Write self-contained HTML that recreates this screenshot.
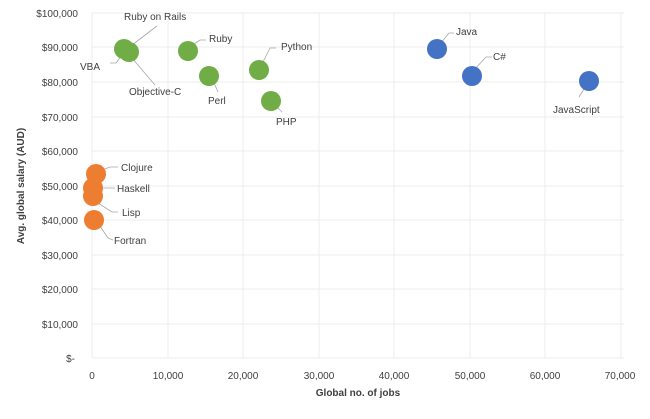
<!DOCTYPE html>
<html><head><meta charset="utf-8"><style>
body{margin:0;background:#fff}
svg text{font-family:"Liberation Sans",sans-serif;font-size:10px;fill:#404040}
</style></head><body>
<svg width="650" height="414" viewBox="0 0 650 414" xmlns="http://www.w3.org/2000/svg">
<g stroke="#ececec" stroke-width="1">
<line x1="92" y1="13" x2="624" y2="13"/><line x1="92" y1="47" x2="624" y2="47"/>
<line x1="92" y1="82" x2="624" y2="82"/><line x1="92" y1="117" x2="624" y2="117"/>
<line x1="92" y1="151" x2="624" y2="151"/><line x1="92" y1="186" x2="624" y2="186"/>
<line x1="92" y1="220" x2="624" y2="220"/><line x1="92" y1="255" x2="624" y2="255"/>
<line x1="92" y1="289" x2="624" y2="289"/><line x1="92" y1="324" x2="624" y2="324"/>
<line x1="92" y1="358" x2="624" y2="358"/>
<line x1="92" y1="13" x2="92" y2="358"/><line x1="168" y1="13" x2="168" y2="358"/>
<line x1="243" y1="13" x2="243" y2="358"/><line x1="319" y1="13" x2="319" y2="358"/>
<line x1="394" y1="13" x2="394" y2="358"/><line x1="470" y1="13" x2="470" y2="358"/>
<line x1="545" y1="13" x2="545" y2="358"/><line x1="621" y1="13" x2="621" y2="358"/>
</g>
<g text-anchor="end">
<text x="78" y="17">$100,000</text><text x="78" y="51">$90,000</text>
<text x="78" y="86">$80,000</text><text x="78" y="121">$70,000</text>
<text x="78" y="155">$60,000</text><text x="78" y="190">$50,000</text>
<text x="78" y="224">$40,000</text><text x="78" y="259">$30,000</text>
<text x="78" y="293">$20,000</text><text x="78" y="328">$10,000</text>
<text x="75" y="362">$-</text>
</g>
<g text-anchor="middle">
<text x="92" y="379">0</text><text x="168" y="379">10,000</text>
<text x="243" y="379">20,000</text><text x="319" y="379">30,000</text>
<text x="394" y="379">40,000</text><text x="470" y="379">50,000</text>
<text x="545" y="379">60,000</text><text x="620" y="379">70,000</text>
<text x="358" y="396" style="font-weight:bold;font-size:10px">Global no. of jobs</text>
<text transform="translate(24,186) rotate(-90)" style="font-weight:bold">Avg. global salary (AUD)</text>
</g>
<g stroke="#a6a6a6" stroke-width="0.8" fill="none">
<polyline points="132,45 157,26"/><polyline points="110,63 116,63 122,55"/>
<polyline points="132,58 155,85"/><polyline points="194,44 200,40 206,40"/>
<polyline points="214,83 218,92"/><polyline points="262,64 270,48 276,48"/>
<polyline points="274,104 282,112"/><polyline points="440,44 449,33 454,33"/>
<polyline points="474,70 486,57 492,57"/><polyline points="584,89 579,97"/>
<polyline points="102,170 110,167 118,167"/><polyline points="98,188 115,188"/>
<polyline points="98,203 112,212 118,212"/><polyline points="100,226 108,238 113,240"/>
</g>
<g fill="#70ad47">
<circle cx="124" cy="49" r="10"/><circle cx="129" cy="52" r="10"/>
<circle cx="188" cy="51" r="10"/><circle cx="209" cy="76" r="10"/>
<circle cx="259" cy="70" r="10"/><circle cx="271" cy="101" r="10"/>
</g>
<g fill="#4472c4">
<circle cx="437" cy="49" r="10"/><circle cx="472" cy="76" r="10"/><circle cx="589" cy="81" r="10"/>
</g>
<g fill="#ed7d31">
<circle cx="96" cy="174" r="10"/><circle cx="93" cy="188" r="10"/><circle cx="93" cy="196" r="10"/><circle cx="94" cy="220" r="10"/>
</g>
<text x="124" y="20">Ruby on Rails</text><text x="80" y="70">VBA</text>
<text x="129" y="95">Objective-C</text><text x="209" y="42">Ruby</text>
<text x="208" y="104">Perl</text><text x="281" y="50">Python</text>
<text x="276" y="125">PHP</text><text x="456" y="35">Java</text>
<text x="493" y="60">C#</text><text x="553" y="113">JavaScript</text>
<text x="121" y="171">Clojure</text><text x="117" y="192">Haskell</text>
<text x="122" y="216">Lisp</text><text x="114" y="244">Fortran</text>
</svg>
</body></html>
